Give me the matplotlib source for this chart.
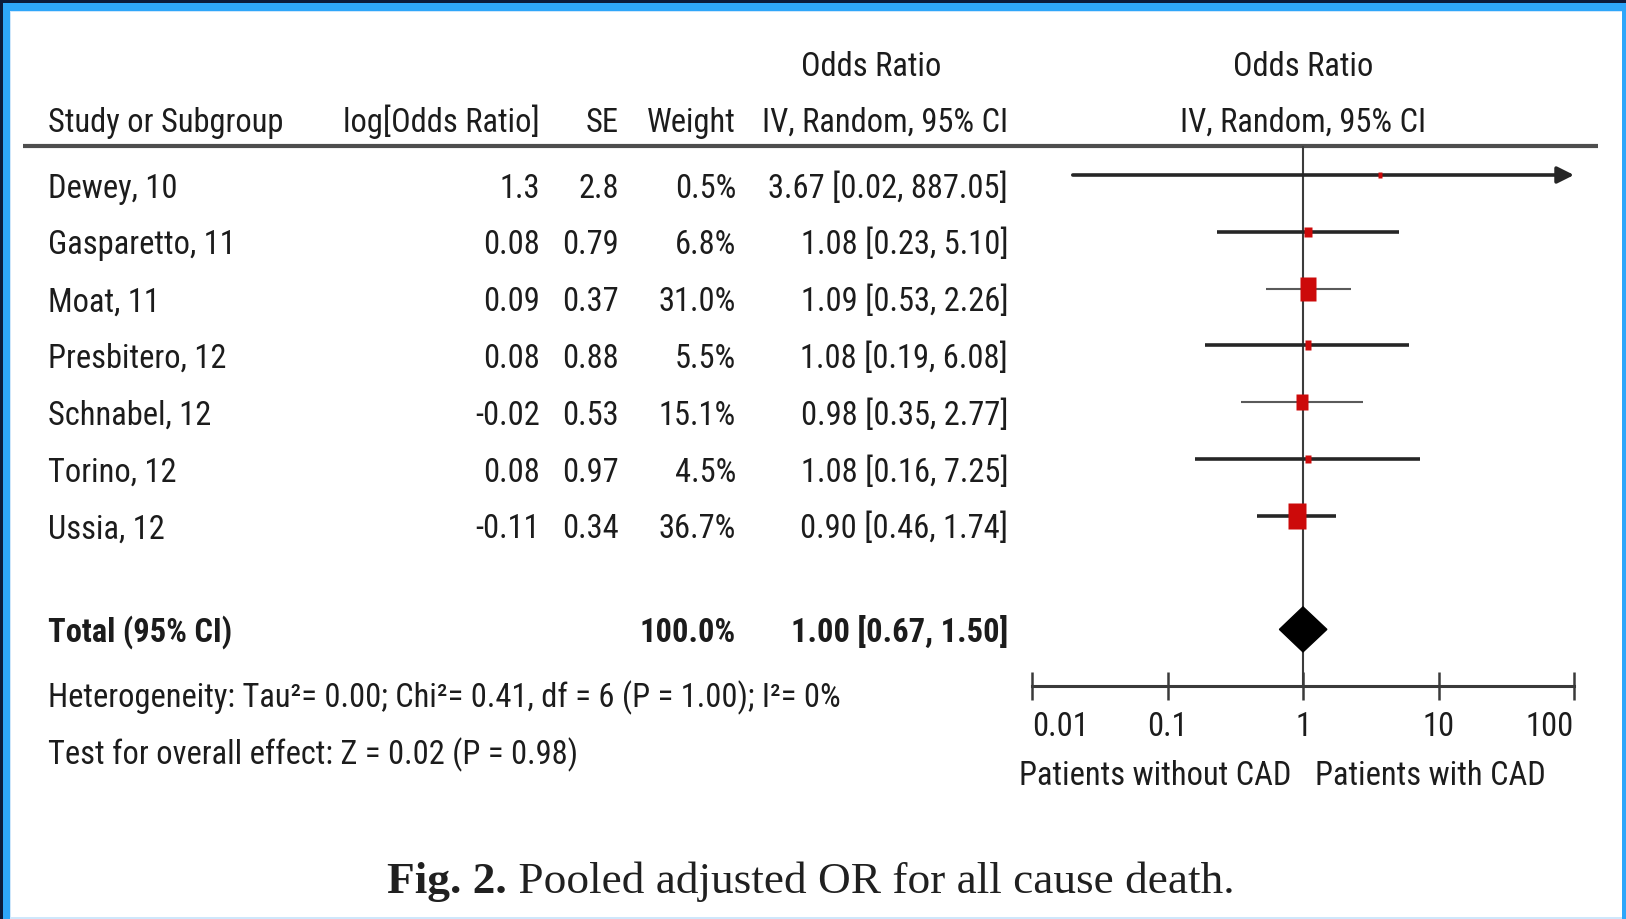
import matplotlib
matplotlib.use("Agg")
import matplotlib.pyplot as plt
from matplotlib import font_manager
from matplotlib.font_manager import FontProperties
from matplotlib.textpath import TextPath
from matplotlib.path import Path
from matplotlib.patches import Rectangle, Polygon
from matplotlib.ticker import NullLocator
import numpy as np

# ---- data -------------------------------------------------------------
studies = ["Dewey, 10", "Gasparetto, 11", "Moat, 11", "Presbitero, 12",
           "Schnabel, 12", "Torino, 12", "Ussia, 12"]
log_or = ["1.3", "0.08", "0.09", "0.08", "-0.02", "0.08", "-0.11"]
se = ["2.8", "0.79", "0.37", "0.88", "0.53", "0.97", "0.34"]
weight = [0.5, 6.8, 31.0, 5.5, 15.1, 4.5, 36.7]
odds_ratio = [3.67, 1.08, 1.09, 1.08, 0.98, 1.08, 0.90]
ci_low = [0.02, 0.23, 0.53, 0.19, 0.35, 0.16, 0.46]
ci_high = [887.05, 5.10, 2.26, 6.08, 2.77, 7.25, 1.74]

total_label = "Total (95% CI)"
total_weight = 100.0
total_or, total_low, total_high = 1.00, 0.67, 1.50
heterogeneity = "Heterogeneity: Tau\u00b2= 0.00; Chi\u00b2= 0.41, df = 6 (P = 1.00); I\u00b2= 0%"
overall_effect = "Test for overall effect: Z = 0.02 (P = 0.98)"

axis_ticks = [0.01, 0.1, 1, 10, 100]
axis_tick_labels = ["0.01", "0.1", "1", "10", "100"]
favours_left = "Patients without CAD"
favours_right = "Patients with CAD"
caption_bold = "Fig. 2."
caption_text = " Pooled adjusted OR for all cause death."

# ---- style ------------------------------------------------------------
ci_line_widths = [2.6, 2.6, 1.5, 2.6, 1.5, 2.6, 2.6]
ci_line_colors = ["#262626", "#262626", "#5a5a5a", "#262626", "#5a5a5a", "#262626", "#262626"]
ink = "#1c1c1c"
box_red = "#cc0a0a"

# ---- pick a narrow sans face for the table ----------------------------
SANS = {"Liberation Sans Narrow", "Liberation Sans", "Roboto", "Roboto Condensed",
        "DejaVu Sans", "Noto Sans", "Open Sans", "Lato", "Inter", "Arimo"}
PROBE = "Study or Subgroup"
PROBE_WIDTH_PX = 233.0
TARGET_RATIO = 0.118      # cap height / probe width


def wnum(w):
    if isinstance(w, (int, float)):
        return int(w)
    return font_manager.weight_dict.get(str(w).lower(), 400)


def face_metrics(fname):
    fp = FontProperties(fname=fname)
    cap = TextPath((0, 0), "H", size=100, prop=fp).get_extents().height
    wid = TextPath((0, 0), PROBE, size=100, prop=fp).get_extents().width
    return cap, wid


best = None
for f in font_manager.fontManager.ttflist:
    if f.name not in SANS or f.style != "normal" or wnum(f.weight) != 400:
        continue
    try:
        cap, wid = face_metrics(f.fname)
    except Exception:
        continue
    if wid <= 0:
        continue
    score = abs(cap / wid - TARGET_RATIO)
    if best is None or score < best[0]:
        best = (score, f, cap, wid)

_, body_entry, body_cap, body_wid = best
body_fp = FontProperties(fname=body_entry.fname)
bold_fp = None
for f in font_manager.fontManager.ttflist:
    if (f.name == body_entry.name and f.stretch == body_entry.stretch
            and f.style == "normal" and wnum(f.weight) == 700):
        bold_fp = FontProperties(fname=f.fname)
        break
if bold_fp is None:
    bold_fp = FontProperties(family=body_entry.name, weight="bold")

body_size = PROBE_WIDTH_PX * 72 / body_wid          # points
CAP_PX = body_cap / 100 * body_size * 100 / 72       # cap height in pixels

W, H = 1626, 920
fig = plt.figure(figsize=(W / 100, H / 100), dpi=100)
fig.patch.set_facecolor("#2ea6fa")


def fig_rect(x0, y0, x1, y1, color, z):
    """Rectangle given in pixel units, y measured from the top."""
    fig.add_artist(Rectangle((x0 / W, 1 - y1 / H), (x1 - x0) / W, (y1 - y0) / H,
                             transform=fig.transFigure, facecolor=color,
                             edgecolor="none", zorder=z))


# window frame
fig_rect(0, 0, W, 4, "#0c1a3b", -9)
fig_rect(0, 0, 3, H, "#0c1a3b", -9)
fig_rect(10, 12, 1622, 920, "#cfe7fb", -8)
fig_rect(11, 13, 1622, 918, "white", -7)

# ---- table (pixel coordinates) ---------------------------------------
ax_t = fig.add_axes([0, 0, 1, 1], facecolor="none")
ax_t.set_xlim(0, W)
ax_t.set_ylim(H, 0)
ax_t.axis("off")


def put(x, yc, s, ha="left", bold=False):
    fp = (bold_fp if bold else body_fp).copy()
    fp.set_size(body_size)
    ax_t.text(x, yc + CAP_PX / 2, s, ha=ha, va="baseline", fontproperties=fp, color=ink)


col_study, col_log, col_se, col_w, col_ci = 48, 540, 619, 736, 1008
plot_center = 1303

# headers
put(871, 64, "Odds Ratio", ha="center")
put(plot_center, 64, "Odds Ratio", ha="center")
put(col_study, 120, "Study or Subgroup")
put(col_log, 120, "log[Odds Ratio]", ha="right")
put(col_se, 120, "SE", ha="right")
put(col_w, 120, "Weight", ha="right")
put(col_ci, 120, "IV, Random, 95% CI", ha="right")
put(plot_center, 120, "IV, Random, 95% CI", ha="center")
ax_t.plot([23, 1598], [147, 147], color="#4e4e4e", lw=3.0, solid_capstyle="butt")

row0, pitch = 176, 56.8
for i, name in enumerate(studies):
    yc = row0 + pitch * i + 10
    put(col_study, yc, name)
    put(col_log, yc, log_or[i], ha="right")
    put(col_se, yc, se[i], ha="right")
    put(col_w, yc, f"{weight[i]:.1f}%", ha="right")
    put(col_ci, yc, f"{odds_ratio[i]:.2f} [{ci_low[i]:.2f}, {ci_high[i]:.2f}]", ha="right")

put(col_study, 630, total_label, bold=True)
put(col_w, 630, f"{total_weight:.1f}%", ha="right", bold=True)
put(col_ci, 630, f"{total_or:.2f} [{total_low:.2f}, {total_high:.2f}]", ha="right", bold=True)
put(col_study, 696, heterogeneity)
put(col_study, 753, overall_effect)

put(1291, 773, favours_left, ha="right")
put(1315, 773, favours_right, ha="left")

# caption
t_bold = ax_t.text(387, 893, caption_bold, ha="left", va="baseline", fontsize=32.6,
                   family="Liberation Serif", weight="bold", color="#202020")
renderer = fig.canvas.get_renderer()
bb = t_bold.get_window_extent(renderer)
ax_t.text(bb.x1, 893, caption_text, ha="left", va="baseline", fontsize=32.6,
          family="Liberation Serif", color="#202020")

# ---- forest plot ------------------------------------------------------
x_left, x_right, y_top, y_bot = 1032, 1574, 147, 687
ax_f = fig.add_axes([x_left / W, 1 - y_bot / H, (x_right - x_left) / W, (y_bot - y_top) / H],
                    facecolor="none")
ax_f.set_xscale("log")
xmin, xmax = axis_ticks[0], axis_ticks[-1]
ax_f.set_xlim(xmin, xmax)
ax_f.set_ylim((y_bot - row0) / pitch, (y_top - row0) / pitch)

ax_f.axvline(1, color="#3c3c3c", lw=1.5, zorder=1)

box = Path([(-0.5, -0.72), (0.5, -0.72), (0.5, 0.72), (-0.5, 0.72), (-0.5, -0.72)],
           [Path.MOVETO, Path.LINETO, Path.LINETO, Path.LINETO, Path.CLOSEPOLY])
for i in range(len(studies)):
    lo, hi = ci_low[i], ci_high[i]
    if hi > xmax:
        ax_f.annotate("", xy=(xmax, i), xytext=(lo, i),
                      arrowprops=dict(arrowstyle="-|>", mutation_scale=25,
                                      lw=ci_line_widths[i], color=ci_line_colors[i],
                                      shrinkA=0, shrinkB=0), zorder=2)
    else:
        ax_f.plot([lo, hi], [i, i], color=ci_line_colors[i], lw=ci_line_widths[i],
                  solid_capstyle="butt", zorder=2)
    width_px = max(2.9 * np.sqrt(weight[i]), 4.5)
    ms = 1.44 * width_px * 72 / 100
    ax_f.plot([odds_ratio[i]], [i], marker=box, ms=ms, color=box_red,
              markeredgecolor="none", zorder=3)

total_row = 8
half_h = 22.5 / pitch
ax_f.add_patch(Polygon([(total_low, total_row), (total_or, total_row - half_h),
                        (total_high, total_row), (total_or, total_row + half_h)],
                       closed=True, facecolor="black", edgecolor="black", lw=1, zorder=3))

for side in ("top", "left", "right"):
    ax_f.spines[side].set_visible(False)
ax_f.spines["bottom"].set_linewidth(2.2)
ax_f.spines["bottom"].set_color("#3a3a3a")
ax_f.set_yticks([])
ax_f.xaxis.set_minor_locator(NullLocator())
ax_f.set_xticks(axis_ticks, axis_tick_labels)
ax_f.tick_params(axis="x", which="major", direction="inout", length=20, width=1.8,
                 color="#3a3a3a", pad=7, labelcolor=ink)
tick_fp = body_fp.copy()
tick_fp.set_size(body_size)
labs = ax_f.get_xticklabels()
for lab in labs:
    lab.set_fontproperties(tick_fp)
labs[0].set_ha("left")
labs[-1].set_ha("right")

fig.savefig("out.png", dpi=100, facecolor=fig.get_facecolor())
